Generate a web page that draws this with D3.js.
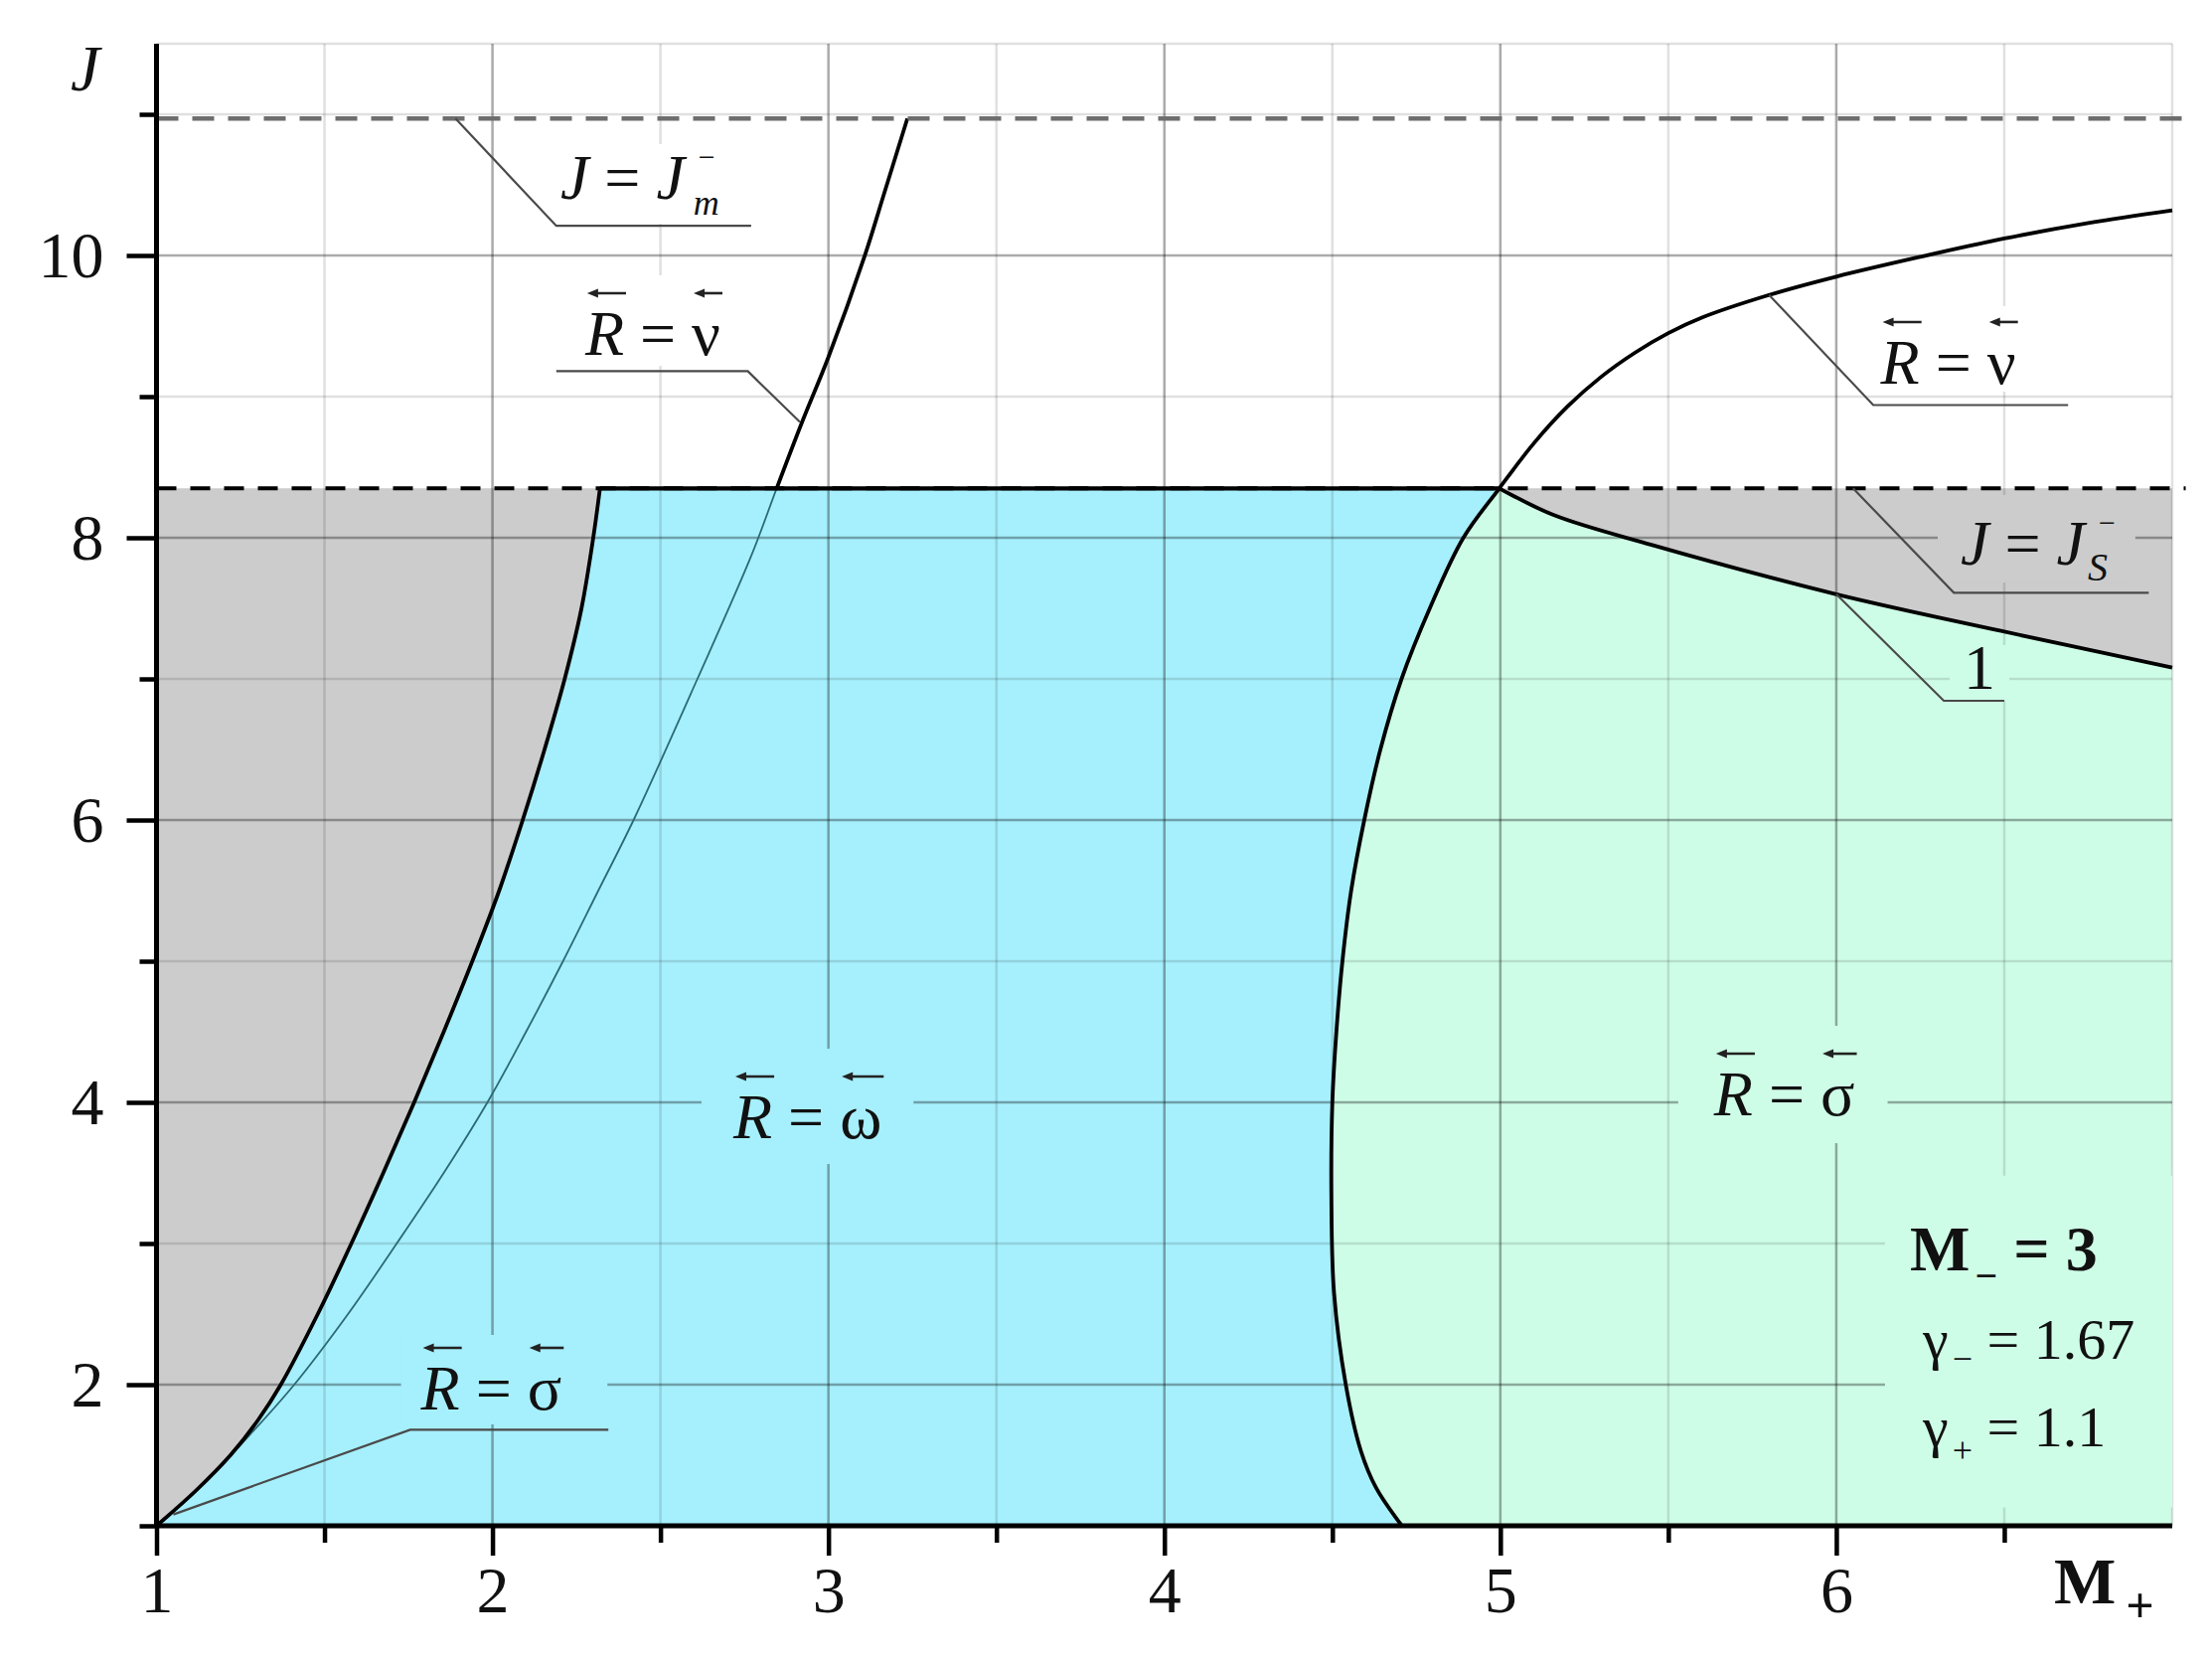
<!DOCTYPE html>
<html>
<head>
<meta charset="utf-8">
<script src="https://cdn.jsdelivr.net/npm/d3@7"></script>
<style>
  body { margin: 0; background: #fff; }
  svg text { font-family: 'Liberation Serif', 'Times New Roman', Times, serif; fill: #111; }
</style>
</head>
<body>
<svg id="chart"></svg>
<script>
var width = 2226, height = 1668;

// ticks and grid
var xMajor = [1, 2, 3, 4, 5, 6];
var xMinor = [1.5, 2.5, 3.5, 4.5, 5.5, 6.5];
var yMajor = [2, 4, 6, 8, 10];
var yMinor = [1, 3, 5, 7, 9, 11];
var xGridMajor = [2, 3, 4, 5, 6];
var xGridMinor = [1.5, 2.5, 3.5, 4.5, 5.5, 6.5, 7];
var yGridMajor = [2, 4, 6, 8, 10];
var yGridMinor = [3, 5, 7, 9, 11, 11.5];

// levels J = Jm-, J = Js-
var jM = 10.97, jS = 8.35;

// curves as [M+, J]
var omegaLeft = [[1, 1], [1.1175, 1.25], [1.22, 1.5], [1.3025, 1.75], [1.37, 2.0], [1.48, 2.5],
  [1.58, 3.0], [1.675, 3.5], [1.767, 4.0], [1.855, 4.5], [1.94, 5.0], [2.02, 5.5], [2.09, 6.0],
  [2.155, 6.5], [2.215, 7.0], [2.265, 7.5], [2.3, 8.0], [2.32, 8.35]];
var nuLeftLow = [[1, 1], [1.12, 1.25], [1.28, 1.65], [1.41, 2.0], [1.57, 2.5], [1.715, 3.0], [1.855, 3.5],
  [1.985, 4.0], [2.1, 4.5], [2.21, 5.0], [2.315, 5.5], [2.42, 6.0], [2.61, 7.0], [2.77, 7.87], [2.846, 8.35]];
var nuLeftHigh = [[2.846, 8.35], [2.92, 8.81], [3.0, 9.28], [3.107, 9.99], [3.166, 10.44], [3.235, 10.97]];
var sigmaOmega = [[4.707, 1], [4.63, 1.27], [4.585, 1.53], [4.54, 2.0], [4.505, 2.65], [4.497, 3.35],
  [4.5, 4.0], [4.512, 4.5], [4.53, 5.0], [4.556, 5.5], [4.595, 6.0], [4.643, 6.5], [4.706, 7.0],
  [4.79, 7.5], [4.89, 8.0], [4.997, 8.35]];
var nuRight = [[4.997, 8.35], [5.1, 8.67], [5.2, 8.93], [5.3, 9.14], [5.4, 9.31], [5.5, 9.45], [5.6, 9.56],
  [5.8, 9.72], [6.0, 9.85], [6.25, 9.99], [6.5, 10.12], [6.75, 10.23], [7.0, 10.32]];
var curve1 = [[4.997, 8.35], [5.16, 8.16], [5.45, 7.95], [6.0, 7.6], [6.49, 7.34], [7.0, 7.08]];

// leader lines
var leadJm = [[1.89, 10.97], [2.19, 10.21], [2.77, 10.21]];
var leadNuL = [[2.915, 8.82], [2.76, 9.18], [2.19, 9.18]];
var leadNuR = [[5.8, 9.72], [6.11, 8.94], [6.69, 8.94]];
var leadJs = [[6.05, 8.35], [6.35, 7.61], [6.93, 7.61]];
var leadOne = [[6.0, 7.6], [6.32, 6.845], [6.5, 6.845]];
var leadSig = [[1.05, 1.08], [1.755, 1.68], [2.345, 1.68]];

var white = '#ffffff', gray = '#cccccc', cyan = '#a6effc', green = '#cefde7';

var svg = d3.select('#chart').attr('width', width).attr('height', height);
svg.append('rect').attr('width', width).attr('height', height).attr('fill', '#fff');

var x = d3.scaleLinear().domain([1, 7]).range([157.5, 2186]);
var y = d3.scaleLinear().domain([1, 11.5]).range([1535, 44]);

var gFill = svg.append('g'), gGrid = svg.append('g'), gBox = svg.append('g'),
    gCurve = svg.append('g'), gDash = svg.append('g'), gLead = svg.append('g'),
    gAxis = svg.append('g'), gText = svg.append('g');

var smooth = d3.line().x(function(d) { return x(d[0]); }).y(function(d) { return y(d[1]); })
  .curve(d3.curveCatmullRom.alpha(0.5));
var straight = d3.line().x(function(d) { return x(d[0]); }).y(function(d) { return y(d[1]); });
function seg(pts) { return smooth(pts).replace(/^M/, 'L'); }
function pt(m, j) { return 'L' + x(m) + ',' + y(j); }

// regions
gFill.append('path').attr('fill', gray)
  .attr('d', 'M' + x(1) + ',' + y(1) + seg(omegaLeft) + pt(1, jS) + 'Z');
gFill.append('path').attr('fill', cyan)
  .attr('d', smooth(omegaLeft) + pt(4.997, jS) + seg(sigmaOmega.slice().reverse()) + 'Z');
gFill.append('path').attr('fill', green)
  .attr('d', smooth(sigmaOmega) + seg(curve1) + pt(7, 1) + 'Z');
gFill.append('path').attr('fill', gray)
  .attr('d', smooth(curve1) + pt(7, jS) + 'Z');

// grid
function vGrid(vals, col) {
  gGrid.selectAll(null).data(vals).enter().append('line')
    .attr('x1', function(d) { return x(d); }).attr('x2', function(d) { return x(d); })
    .attr('y1', y(1)).attr('y2', y(11.5))
    .attr('stroke', col).attr('stroke-width', 2.5);
}
function hGrid(vals, col) {
  gGrid.selectAll(null).data(vals).enter().append('line')
    .attr('y1', function(d) { return y(d); }).attr('y2', function(d) { return y(d); })
    .attr('x1', x(1)).attr('x2', x(7))
    .attr('stroke', col).attr('stroke-width', 2.5);
}
vGrid(xGridMinor, 'rgba(0,0,0,0.12)');
hGrid(yGridMinor, 'rgba(0,0,0,0.12)');
vGrid(xGridMajor, 'rgba(0,0,0,0.33)');
hGrid(yGridMajor, 'rgba(0,0,0,0.33)');

// curves
gCurve.append('path').attr('d', smooth(nuLeftLow.concat(nuLeftHigh.slice(1)))).attr('fill', 'none')
  .attr('stroke', '#2b6a74').attr('stroke-width', 1.8);
[omegaLeft, nuLeftHigh, sigmaOmega.concat(nuRight.slice(1)), curve1].forEach(function(c) {
  gCurve.append('path').attr('d', smooth(c)).attr('fill', 'none')
    .attr('stroke', '#000').attr('stroke-width', 3.8).attr('stroke-linejoin', 'round');
});

// level lines
gDash.append('line').attr('x1', x(1)).attr('x2', x(7.04)).attr('y1', y(jM)).attr('y2', y(jM))
  .attr('stroke', '#6e6e6e').attr('stroke-width', 4.5).attr('stroke-dasharray', '22,14');
gDash.append('line').attr('x1', x(1)).attr('x2', x(7.04)).attr('y1', y(jS)).attr('y2', y(jS))
  .attr('stroke', '#000').attr('stroke-width', 4).attr('stroke-dasharray', '20,14');
gDash.append('line').attr('x1', x(2.32)).attr('x2', x(4.997)).attr('y1', y(jS)).attr('y2', y(jS))
  .attr('stroke', '#000').attr('stroke-width', 4.2);

// leaders
[leadJm, leadNuL, leadNuR, leadJs, leadOne, leadSig].forEach(function(l) {
  gLead.append('path').attr('d', straight(l)).attr('fill', 'none')
    .attr('stroke', '#4a4a4a').attr('stroke-width', 2.2);
});

// axes
var ax = gAxis.append('g').attr('transform', 'translate(0,' + y(1) + ')')
  .call(d3.axisBottom(x).tickValues(xMajor).tickSize(30).tickPadding(10).tickFormat(d3.format('d')));
var axm = gAxis.append('g').attr('transform', 'translate(0,' + y(1) + ')')
  .call(d3.axisBottom(x).tickValues(xMinor).tickSize(17).tickFormat(''));
var ay = gAxis.append('g').attr('transform', 'translate(' + x(1) + ',0)')
  .call(d3.axisLeft(y).tickValues(yMajor).tickSize(30).tickPadding(23).tickFormat(d3.format('d')));
var aym = gAxis.append('g').attr('transform', 'translate(' + x(1) + ',0)')
  .call(d3.axisLeft(y).tickValues(yMinor).tickSize(17).tickFormat(''));
[ax, axm, ay, aym].forEach(function(a) {
  a.select('.domain').remove();
  a.selectAll('.tick line').attr('stroke', '#000').attr('stroke-width', 4.5);
  a.selectAll('.tick text').attr('font-size', 66).attr('fill', '#111');
});
gAxis.append('line').attr('x1', x(1)).attr('x2', x(7)).attr('y1', y(1)).attr('y2', y(1))
  .attr('stroke', '#000').attr('stroke-width', 5);
gAxis.append('line').attr('x1', x(1)).attr('x2', x(1)).attr('y1', y(1)).attr('y2', y(11.5))
  .attr('stroke', '#000').attr('stroke-width', 5);

// axis titles
gText.append('text').attr('x', 71).attr('y', 91).attr('font-size', 66).attr('font-style', 'italic').text('J');
var mt = gText.append('text').attr('x', 2067).attr('y', 1613).attr('font-size', 66).attr('font-weight', 'bold');
mt.append('tspan').text('M');
mt.append('tspan').attr('font-size', 50).attr('dx', 10).attr('dy', 19).text('+');

// curve labels
var labels = [
  { m: 2.202, j: 10.401, parts: [['J', 1], [' = ', 0], ['J', 1]], sup: '−', sub: 'm', subSize: 36, subDx: 9, arrows: [], pad: [25, 55, 25, 25], fill: white },
  { m: 2.276, j: 9.296, parts: [['R', 1], [' = ', 0], ['ν', 0]], arrows: [0, 4], pad: [20, 80, 20, 11], fill: white },
  { m: 6.132, j: 9.092, parts: [['R', 1], [' = ', 0], ['ν', 0]], arrows: [0, 4], pad: [20, 78, 20, 8], fill: white },
  { m: 6.37, j: 7.81, parts: [['J', 1], [' = ', 0], ['J', 1]], sup: '−', sub: 'S', subSize: 40, subDx: 3, arrows: [], pad: [23, 70, 20, 18], fill: gray },
  { m: 6.379, j: 6.93, parts: [['1', 0]], arrows: [], pad: [14, 44, 14, 12], fill: green },
  { m: 2.717, j: 3.746, parts: [['R', 1], [' = ', 0], ['ω', 0]], arrows: [0, 4], pad: [32, 90, 32, 26], fill: cyan },
  { m: 5.636, j: 3.908, parts: [['R', 1], [' = ', 0], ['σ', 0]], arrows: [0, 4], pad: [36, 90, 33, 28], fill: green },
  { m: 1.787, j: 1.824, parts: [['R', 1], [' = ', 0], ['σ', 0]], arrows: [0, 4], pad: [20, 75, 46, 15], fill: cyan }
];

labels.forEach(function(d) {
  var x0 = x(d.m), y0 = y(d.j);
  var t = gText.append('text').attr('x', x0).attr('y', y0).attr('font-size', 64);
  d.parts.forEach(function(p) {
    t.append('tspan').attr('font-style', p[1] ? 'italic' : 'normal').text(p[0]);
  });
  var node = t.node();
  var end = x0 + node.getComputedTextLength();
  var right = end;
  if (d.sup) {
    var s = gText.append('text').attr('x', end + 14).attr('y', y0 - 32).attr('font-size', 30).text(d.sup);
    right = Math.max(right, end + 14 + s.node().getComputedTextLength());
  }
  if (d.sub) {
    var b = gText.append('text').attr('x', end + d.subDx).attr('y', y0 + 16)
      .attr('font-size', d.subSize).attr('font-style', 'italic').text(d.sub);
    right = Math.max(right, end + d.subDx + b.node().getComputedTextLength());
  }
  d.arrows.forEach(function(i) {
    var e = node.getExtentOfChar(i);
    var xa = e.x + 2, xb = e.x + e.width + 2, ya = y0 - 62;
    gText.append('line').attr('x1', xa + 6).attr('x2', xb).attr('y1', ya).attr('y2', ya)
      .attr('stroke', '#222').attr('stroke-width', 2.6);
    gText.append('path').attr('d', 'M' + xa + ',' + ya + 'L' + (xa + 11) + ',' + (ya - 4.5) + 'L' + (xa + 11) + ',' + (ya + 4.5) + 'Z')
      .attr('fill', '#222');
  });
  gBox.append('rect')
    .attr('x', x0 - d.pad[0]).attr('y', y0 - d.pad[1])
    .attr('width', right - x0 + d.pad[0] + d.pad[2]).attr('height', d.pad[1] + d.pad[3])
    .attr('fill', d.fill);
});

// parameter block
gBox.append('rect').attr('x', x(6.145)).attr('y', y(3.48))
  .attr('width', x(7) - x(6.145)).attr('height', y(1.13) - y(3.48)).attr('fill', green);

var p1 = gText.append('text').attr('x', 1922).attr('y', 1278).attr('font-size', 64).attr('font-weight', 'bold');
p1.append('tspan').text('M');
p1.append('tspan').attr('font-size', 40).attr('dx', 5).attr('dy', 19).text('−');
p1.append('tspan').attr('dy', -19).text(' = 3');

var p2 = gText.append('text').attr('x', 1935).attr('y', 1367).attr('font-size', 58).attr('fill', '#222');
p2.append('tspan').text('γ');
p2.append('tspan').attr('font-size', 36).attr('dx', 4).attr('dy', 12).text('−');
p2.append('tspan').attr('dy', -12).text(' = 1.67');

var p3 = gText.append('text').attr('x', 1935).attr('y', 1455).attr('font-size', 58).attr('fill', '#222');
p3.append('tspan').text('γ');
p3.append('tspan').attr('font-size', 36).attr('dx', 4).attr('dy', 16).text('+');
p3.append('tspan').attr('dy', -16).text(' = 1.1');
</script>
</body>
</html>
